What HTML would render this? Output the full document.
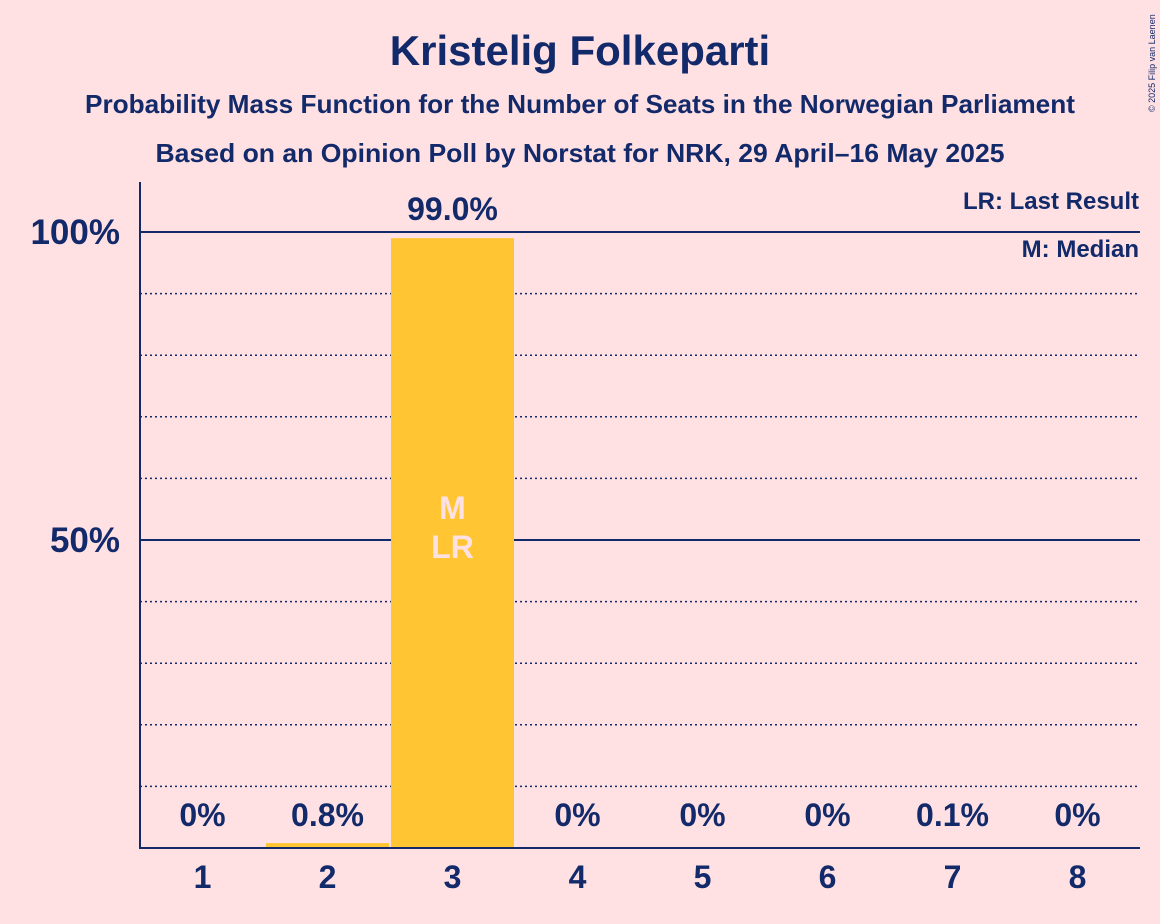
<!DOCTYPE html>
<html><head><meta charset="utf-8"><style>
body{margin:0;background:#FFE1E3;}
svg{display:block;font-family:"Liberation Sans",sans-serif;}
</style></head><body>
<svg id="chart" width="1160" height="924">
<rect width="1160" height="924" fill="#FFE1E3"/>
<text x="580" y="65" text-anchor="middle" font-size="42" font-weight="bold" fill="#12296A">Kristelig Folkeparti</text>
<text x="580" y="113" text-anchor="middle" font-size="26" font-weight="bold" fill="#12296A" textLength="990" lengthAdjust="spacingAndGlyphs">Probability Mass Function for the Number of Seats in the Norwegian Parliament</text>
<text x="580" y="162" text-anchor="middle" font-size="26" font-weight="bold" fill="#12296A" textLength="849" lengthAdjust="spacingAndGlyphs">Based on an Opinion Poll by Norstat for NRK, 29 April–16 May 2025</text>
<text x="1155" y="112" font-size="9" fill="#12296A" transform="rotate(-90 1155 112)">© 2025 Filip van Laenen</text>
<g id="grid"></g>
<g id="bars"></g>
<g id="labels"></g>
<line x1="140" y1="182" x2="140" y2="849" stroke="#12296A" stroke-width="2"/>
<line x1="139" y1="848" x2="1140" y2="848" stroke="#12296A" stroke-width="2"/>
<text x="1139" y="209" text-anchor="end" font-size="24" font-weight="bold" fill="#12296A">LR: Last Result</text>
<text x="1139" y="257" text-anchor="end" font-size="24" font-weight="bold" fill="#12296A">M: Median</text>
</svg>
<script>
const categories=[1,2,3,4,5,6,7,8];
const values=[0,0.8,99.0,0,0,0,0.1,0];
const valueLabels=["0%","0.8%","99.0%","0%","0%","0%","0.1%","0%"];
const yTicks=[50,100];
const yTickLabels=["50%","100%"];
const medianIndex=2;
const lastResultIndex=2;
const NS="http://www.w3.org/2000/svg";
const x0=140,bw=125,y0=848,ppp=6.16;
const xs=i=>x0+i*bw;
const ys=v=>y0-v*ppp;
function mk(t,a,p){const e=document.createElementNS(NS,t);for(const k in a)e.setAttribute(k,a[k]);p.appendChild(e);return e;}
const grid=document.getElementById('grid'),bars=document.getElementById('bars'),labels=document.getElementById('labels');
for(let v=10;v<100;v+=10){if(v===50)continue;
const l=mk('line',{x1:140,x2:1140,y1:ys(v),y2:ys(v),stroke:'#12296A','stroke-width':1.5,'stroke-dasharray':'2,3'},grid);

}
yTicks.forEach((v,i)=>{
const l=mk('line',{x1:140,x2:1140,y1:ys(v),y2:ys(v),stroke:'#12296A','stroke-width':2},grid);


const t=mk('text',{x:120,y:ys(v)+12,'text-anchor':'end','font-size':35,'font-weight':'bold',fill:'#12296A'},labels);
t.textContent=yTickLabels[i];

});
categories.forEach((c,i)=>{
const h=values[i]*ppp;
if(values[i]>0){const r=mk('rect',{x:xs(i)+1,y:y0-h,width:bw-2,height:h,fill:'#FFC533'},bars);

}
const cx=xs(i)+bw/2;
const ly=values[i]>50?ys(values[i])-18:y0-22;
const t=mk('text',{x:cx,y:ly,'text-anchor':'middle','font-size':32,'font-weight':'bold',fill:'#12296A'},labels);
t.textContent=valueLabels[i];


const xt=mk('text',{x:cx,y:888,'text-anchor':'middle','font-size':32,'font-weight':'bold',fill:'#12296A'},labels);
xt.textContent=c;


if(i===medianIndex){const m=mk('text',{x:cx,y:519,'text-anchor':'middle','font-size':32,'font-weight':'bold',fill:'#FFE1E3'},labels);
m.textContent='M';

}
if(i===lastResultIndex){const m=mk('text',{x:cx,y:558,'text-anchor':'middle','font-size':32,'font-weight':'bold',fill:'#FFE1E3'},labels);
m.textContent='LR';

}
});
</script>
</body></html>
